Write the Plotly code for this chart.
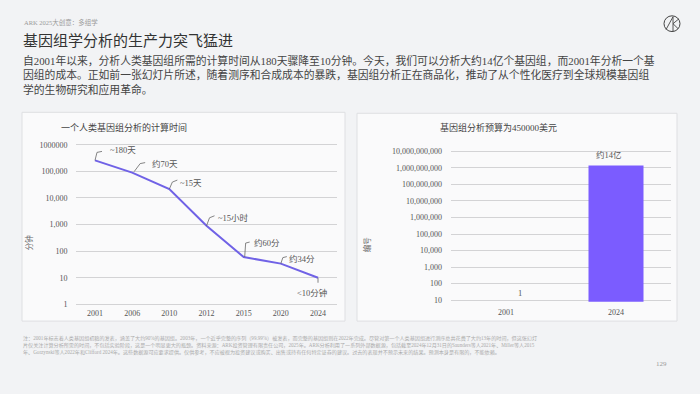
import math
import plotly.graph_objects as go

# ---------------- data ----------------
years_left = ["2001", "2006", "2010", "2012", "2015", "2020", "2024"]
minutes = [259200, 90000, 21600, 900, 60, 34, 10]
left_labels = ["~180天", "约70天", "~15天", "~15小时", "约60分", "约34分", "<10分钟"]
left_tickvals = [1, 10, 100, 1000, 10000, 100000, 1000000]
left_ticktext = ["1", "10", "100", "1,000", "10,000", "100,000", "1000000"]

years_right = ["2001", "2024"]
genomes = [1, 1.4e9]
right_labels = ["1", "约14亿"]
right_tickvals = [10 ** k for k in range(1, 11)]
right_ticktext = [f"{v:,}" for v in right_tickvals]

FONT = "Liberation Serif, Noto Sans CJK SC, sans-serif"
W, H = 700, 394
GRID = "#d3d3d5"


def px(x):
    return x / W


def py(y):
    return 1 - y / H


fig = go.Figure()

fig.add_trace(go.Scatter(
    x=years_left, y=minutes, mode="lines",
    line=dict(color="#7062e6", width=2),
    xaxis="x", yaxis="y", hoverinfo="skip", showlegend=False))

fig.add_trace(go.Bar(
    x=years_right, y=genomes, marker=dict(color="#7b5cff", line=dict(width=0)),
    width=0.5, xaxis="x2", yaxis="y2", hoverinfo="skip", showlegend=False))

shapes = []
annotations = []

# panels
shapes.append(dict(type="rect", xref="paper", yref="paper",
                   x0=px(22), x1=px(345), y0=py(323), y1=py(111),
                   fillcolor="#fafafb", line=dict(color="#dedfe2", width=1), layer="below"))
shapes.append(dict(type="rect", xref="paper", yref="paper",
                   x0=px(357), x1=px(677), y0=py(323), y1=py(112),
                   fillcolor="#fafafb", line=dict(color="#dedfe2", width=1), layer="below"))

# leader lines & labels for left chart (pixel offsets)
leader_paths = [
    "M 0 0 L 2 8 L 7 9",
    "M 2 1 L 8 9 L 13 10",
    "M 0 0 L 3 7 L 8 9",
    "M 0 0 L 3 8 L 8 10",
    "M 1 0 L 2 14 L 6 15",
    "M 0 0 L 2 6 L 6 7",
    "M 0 0 L 0 -5",
]
label_shift = [(13, 10), (18, 9), (9, 6), (9, 8), (8, 14), (6, 5), (-6, -15)]
label_anchor = ["left", "left", "left", "left", "left", "left", "center"]
for i, v in enumerate(minutes):
    shapes.append(dict(type="path", xref="x", yref="y",
                       xsizemode="pixel", ysizemode="pixel",
                       xanchor=i, yanchor=v,
                       path=leader_paths[i], line=dict(color="#666", width=0.8)))
    annotations.append(dict(x=i, y=math.log10(v), xref="x", yref="y",
                            text=left_labels[i], showarrow=False,
                            xanchor=label_anchor[i], yanchor="middle",
                            xshift=label_shift[i][0], yshift=label_shift[i][1],
                            font=dict(size=8.5, color="#555", family=FONT)))

# right chart labels
annotations.append(dict(x=0, y=1, xref="x2", yref="y2",
                        text=right_labels[0], showarrow=False, xshift=14, yshift=7,
                        font=dict(size=8.5, color="#555", family=FONT)))
annotations.append(dict(x=1, y=math.log10(genomes[1]), xref="x2", yref="y2",
                        text=right_labels[1], showarrow=False, xshift=-7, yshift=10,
                        font=dict(size=8.5, color="#555", family=FONT)))

# chart titles and axis titles
annotations.append(dict(x=px(59), y=py(126), xref="paper", yref="paper",
                        text="一个人类基因组分析的计算时间", showarrow=False,
                        xanchor="left", yanchor="middle",
                        font=dict(size=9, color="#444", family=FONT)))
annotations.append(dict(x=px(438), y=py(126), xref="paper", yref="paper",
                        text="基因组分析预算为450000美元", showarrow=False,
                        xanchor="left", yanchor="middle",
                        font=dict(size=9, color="#444", family=FONT)))
annotations.append(dict(x=px(29), y=py(243), xref="paper", yref="paper",
                        text="分钟", showarrow=False, textangle=-90,
                        xanchor="center", yanchor="middle",
                        font=dict(size=7.5, color="#666", family=FONT)))
annotations.append(dict(x=px(367), y=py(245), xref="paper", yref="paper",
                        text="编号", showarrow=False, textangle=-90,
                        xanchor="center", yanchor="middle",
                        font=dict(size=7.5, color="#666", family=FONT)))

# header texts
annotations.append(dict(x=px(22), y=py(20), xref="paper", yref="paper",
                        text="ARK 2025大创意：多组学", showarrow=False,
                        xanchor="left", yanchor="middle",
                        font=dict(size=6.5, color="#9a9a9a", family=FONT)))
annotations.append(dict(x=px(21), y=py(38.5), xref="paper", yref="paper",
                        text="基因组学分析的生产力突飞猛进", showarrow=False,
                        xanchor="left", yanchor="middle",
                        font=dict(size=15, color="#333", family=FONT)))
body = [
    "自2001年以来，分析人类基因组所需的计算时间从180天骤降至10分钟。今天，我们可以分析大约14亿个基因组，而2001年分析一个基",
    "因组的成本。正如前一张幻灯片所述，随着测序和合成成本的暴跌，基因组分析正在商品化，推动了从个性化医疗到全球规模基因组",
    "学的生物研究和应用革命。",
]
for i, line in enumerate(body):
    annotations.append(dict(x=px(21), y=py(58 + 15 * i), xref="paper", yref="paper",
                            text=line, showarrow=False, xanchor="left", yanchor="middle",
                            font=dict(size=10.8, color="#444", family=FONT)))

notes = [
    "注：2001年标志着人类基因组初稿的发表，涵盖了大约90%的基因组。2003年，一个近乎完整的序列（99.99%）被发表，而完整的基因组则在2022年完成。尽管对第一个人类基因组进行测序总共花费了大约13年的时间，但这张幻灯",
    "片仅关注计算分析所需的时间，不包括实验阶段，这是一个明显更大的瓶颈。资料来源：ARK投资管理有限责任公司，2025年。ARK分析利用了一系列外部数据源，包括截至2024年12月31日的Saunders等人2021年、Miller等人2015",
    "年、Gorzynski等人2022年和Clifford 2024年。这些数据源可应要求提供。仅供参考，不应被视为投资建议或购买、出售或持有任何特定证券的建议。过去的表现并不预示未来的结果。预测本身是有限的，不能依赖。",
]
for i, line in enumerate(notes):
    annotations.append(dict(x=px(21), y=py(341 + 6.7 * i), xref="paper", yref="paper",
                            text=line, showarrow=False, xanchor="left", yanchor="middle",
                            font=dict(size=5.1, color="#aaaaaa", family=FONT)))
annotations.append(dict(x=px(661), y=py(367), xref="paper", yref="paper",
                        text="129", showarrow=False, xanchor="center", yanchor="middle",
                        font=dict(size=7, color="#999", family=FONT)))

# logo
shapes.append(dict(type="circle", xref="paper", yref="paper",
                   x0=px(664), x1=px(680), y0=py(29), y1=py(13),
                   line=dict(color="#444", width=1)))
shapes.append(dict(type="path", xref="paper", yref="paper",
                   path=f"M {px(666)} {py(27)} L {px(673)} {py(14)} L {px(673)} {py(29)} "
                        f"M {px(673)} {py(21)} L {px(679)} {py(16)} M {px(673)} {py(21)} L {px(678)} {py(26)}",
                   line=dict(color="#444", width=0.9)))

axis_common = dict(showline=False, zeroline=False, ticks="",
                   tickfont=dict(size=8, color="#555", family=FONT))

fig.update_layout(
    width=W, height=H,
    margin=dict(l=0, r=0, t=0, b=0),
    paper_bgcolor="#f2f3f5",
    plot_bgcolor="rgba(0,0,0,0)",
    showlegend=False,
    shapes=shapes,
    annotations=annotations,
    xaxis=dict(domain=[px(76.4), px(336.6)], anchor="y", type="category",
               range=[-0.5, 6.5], showgrid=False, **axis_common),
    yaxis=dict(domain=[py(308.7), py(141.3)], anchor="x", type="log",
               range=[-0.1, 6.1], tickvals=left_tickvals, ticktext=left_ticktext,
               showgrid=True, gridcolor=GRID, gridwidth=1,
               ticklabelstandoff=8, **axis_common),
    xaxis2=dict(domain=[px(451), px(671)], anchor="y2", type="category",
                range=[-0.5, 1.5], showgrid=False, ticklabelstandoff=4, **axis_common),
    yaxis2=dict(domain=[py(303.4), py(149.0)], anchor="x2", type="log",
                range=[0.9, 10.1], tickvals=right_tickvals, ticktext=right_ticktext,
                showgrid=True, gridcolor=GRID, gridwidth=1,
                ticklabelstandoff=8, **axis_common),
)

fig.write_html("out.html", config={"displayModeBar": False},
               post_script="document.body.style.margin='0';")
